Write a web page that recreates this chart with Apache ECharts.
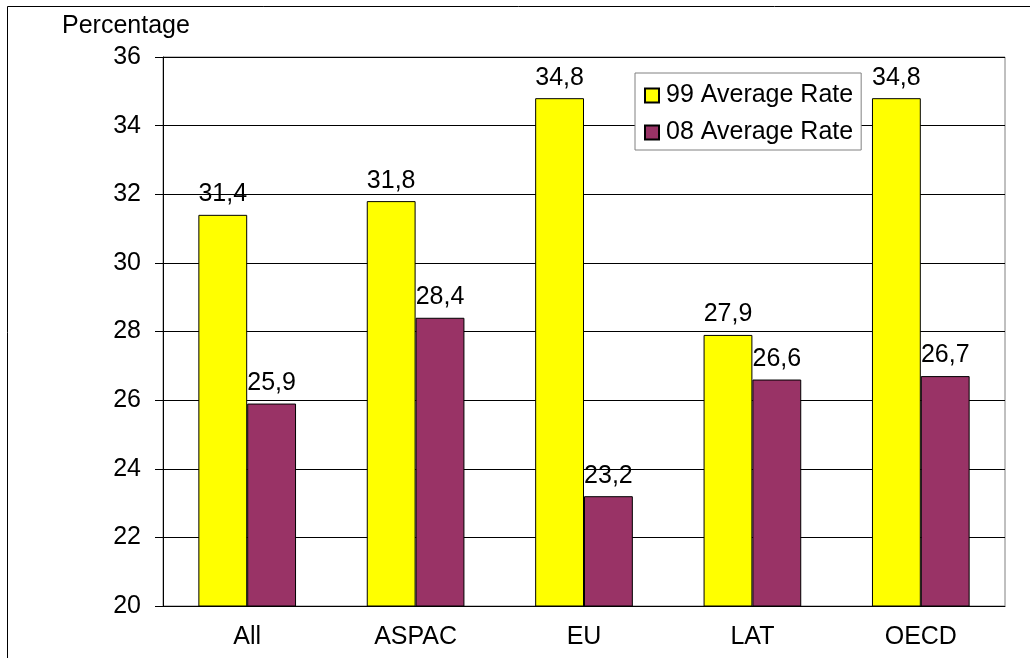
<!DOCTYPE html>
<html>
<head>
<meta charset="utf-8">
<script src="https://cdn.jsdelivr.net/npm/echarts@6/dist/echarts.min.js"></script>
<style>
  html, body { margin: 0; padding: 0; background: #fff; }
  #chart { width: 1034px; height: 658px; }
</style>
</head>
<body>
<div id="chart"></div>
<script>
const categories = ['All', 'ASPAC', 'EU', 'LAT', 'OECD'];
const rate99 = [31.4, 31.8, 34.8, 27.9, 34.8];
const rate08 = [25.9, 28.4, 23.2, 26.6, 26.7];
const yTicks = { min: 20, max: 36, step: 2 };

const font = 'Liberation Sans, Arial, sans-serif';
const fs = 25;
const commaLabel = p => String(p.value.toFixed(1)).replace('.', ',');

const chart = echarts.init(document.getElementById('chart'));
chart.setOption({
  animation: false,
  textStyle: { fontFamily: font, color: '#000' },
  title: {
    text: 'Percentage',
    left: 62, top: 14, padding: 0,
    textStyle: { fontFamily: font, fontSize: fs, fontWeight: 'normal', color: '#000' }
  },
  graphic: [
    { type: 'line', shape: { x1: 7.5, y1: 6.5, x2: 1030, y2: 6.5 }, style: { stroke: '#000', lineWidth: 1 } },
    { type: 'line', shape: { x1: 7.5, y1: 6.5, x2: 7.5, y2: 658 }, style: { stroke: '#000', lineWidth: 1 } }
  ],
  grid: {
    left: 163, right: 29, top: 57, bottom: 52,
    show: true, borderColor: '#808080', borderWidth: 1, backgroundColor: '#fff'
  },
  legend: {
    orient: 'vertical',
    left: 635, top: 73,
    padding: [10, 8, 5, 9],
    itemGap: 12,
    itemWidth: 14, itemHeight: 14,
    icon: 'rect',
    borderColor: '#808080', borderWidth: 1,
    backgroundColor: '#fff',
    textStyle: { fontFamily: font, fontSize: fs, color: '#000', padding: [0, 0, 0, 2] },
    data: ['99 Average Rate', '08 Average Rate']
  },
  xAxis: {
    type: 'category',
    data: categories,
    axisLine: { lineStyle: { color: '#000' } },
    axisTick: { length: 7, lineStyle: { color: '#000' } },
    axisLabel: { fontSize: fs, color: '#000', margin: 19, fontFamily: font }
  },
  yAxis: {
    type: 'value',
    min: yTicks.min, max: yTicks.max, interval: yTicks.step,
    axisLine: { show: true, lineStyle: { color: '#000' } },
    axisTick: { show: true, length: 8, lineStyle: { color: '#000' } },
    axisLabel: { fontSize: fs, color: '#000', margin: 22, fontFamily: font },
    splitLine: { lineStyle: { color: '#000' } }
  },
  series: [
    {
      name: '99 Average Rate',
      type: 'bar',
      data: rate99,
      barGap: '0%',
      barCategoryGap: '42%',
      itemStyle: { color: '#FFFF00', borderColor: '#000', borderWidth: 1 },
      label: { show: true, position: 'top', distance: 8, fontSize: fs, color: '#000', fontFamily: font, formatter: commaLabel }
    },
    {
      name: '08 Average Rate',
      type: 'bar',
      data: rate08,
      itemStyle: { color: '#993366', borderColor: '#000', borderWidth: 1 },
      label: { show: true, position: 'top', distance: 8, fontSize: fs, color: '#000', fontFamily: font, formatter: commaLabel }
    }
  ]
});
</script>
</body>
</html>
